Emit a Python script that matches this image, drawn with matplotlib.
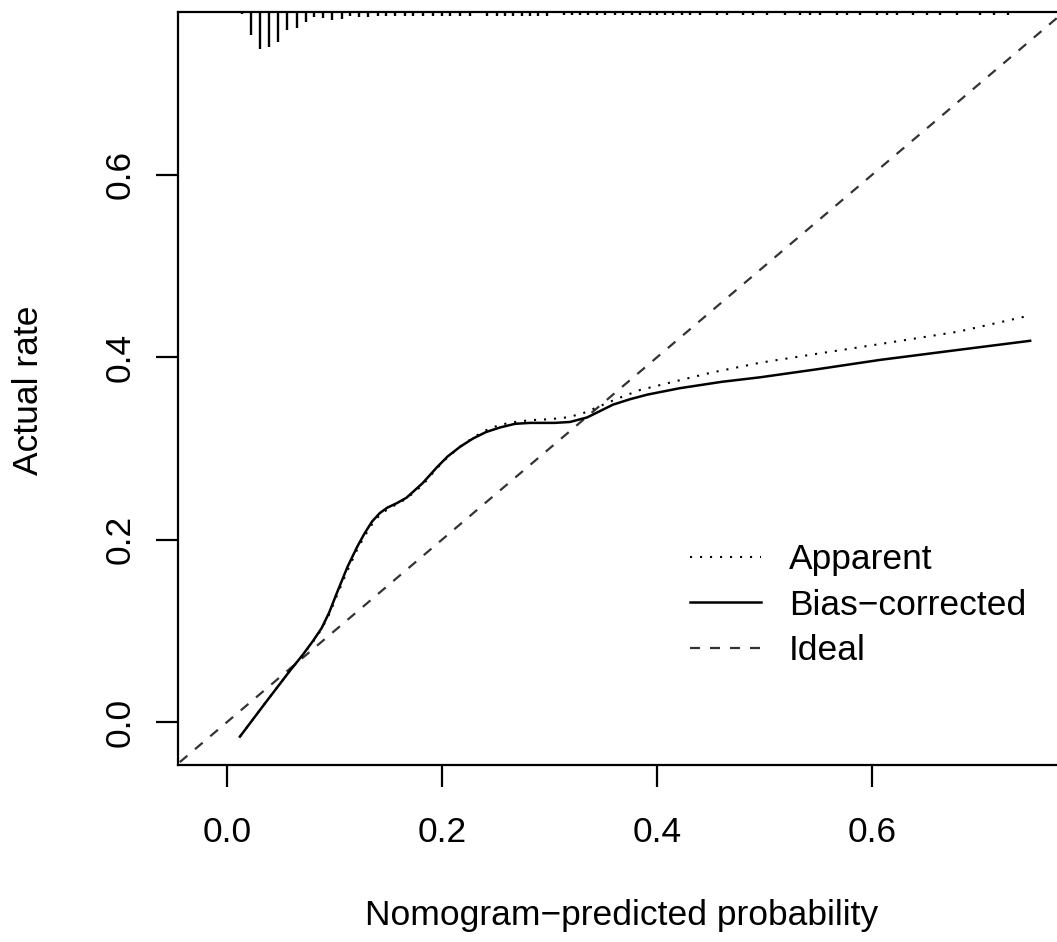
import matplotlib
matplotlib.use("Agg")
import matplotlib.pyplot as plt

plt.rcParams['font.family'] = ['Liberation Sans', 'DejaVu Sans']

# calibration curves (predicted probability, actual rate)
bias_x = [0.012, 0.035, 0.059, 0.070, 0.080, 0.088, 0.095, 0.102, 0.112, 0.121,
          0.128, 0.135, 0.142, 0.149, 0.158, 0.167, 0.182, 0.195, 0.205, 0.217,
          0.229, 0.241, 0.254, 0.268, 0.282, 0.305, 0.319, 0.335, 0.347, 0.359,
          0.375, 0.391, 0.421, 0.460, 0.496, 0.550, 0.607, 0.680, 0.747]
bias_y = [-0.016, 0.020, 0.057, 0.073, 0.089, 0.103, 0.120, 0.141, 0.170, 0.192,
          0.207, 0.220, 0.229, 0.235, 0.240, 0.246, 0.262, 0.279, 0.291, 0.302,
          0.311, 0.318, 0.323, 0.327, 0.328, 0.328, 0.329, 0.334, 0.341, 0.348,
          0.354, 0.359, 0.366, 0.373, 0.378, 0.387, 0.397, 0.408, 0.418]

app_x = [0.012, 0.035, 0.059, 0.070, 0.080, 0.088, 0.095, 0.102, 0.112, 0.121,
         0.128, 0.135, 0.142, 0.149, 0.158, 0.167, 0.182, 0.195, 0.205, 0.217,
         0.229, 0.241, 0.254, 0.268, 0.282, 0.300, 0.316, 0.330, 0.344, 0.364,
         0.384, 0.415, 0.450, 0.496, 0.550, 0.605, 0.680, 0.744]
app_y = [-0.016, 0.020, 0.057, 0.073, 0.088, 0.102, 0.118, 0.138, 0.166, 0.189,
         0.204, 0.217, 0.227, 0.233, 0.239, 0.245, 0.260, 0.278, 0.290, 0.302,
         0.312, 0.320, 0.326, 0.329, 0.331, 0.332, 0.334, 0.338, 0.345, 0.355,
         0.364, 0.373, 0.383, 0.394, 0.404, 0.414, 0.428, 0.445]

# distribution of predictions (rug at the top)
rug_x = [0.014, 0.022, 0.031, 0.039, 0.047, 0.056, 0.065, 0.073, 0.081, 0.089,
         0.098, 0.107, 0.114, 0.123, 0.131, 0.140, 0.148, 0.156, 0.166, 0.173,
         0.182, 0.192, 0.200, 0.207, 0.217, 0.226, 0.242, 0.251, 0.259, 0.266,
         0.274, 0.282, 0.289, 0.298, 0.313, 0.321, 0.328, 0.336, 0.344, 0.352,
         0.361, 0.368, 0.377, 0.384, 0.393, 0.400, 0.407, 0.415, 0.423, 0.431,
         0.440, 0.456, 0.465, 0.480, 0.489, 0.502, 0.519, 0.533, 0.542, 0.552,
         0.567, 0.577, 0.589, 0.605, 0.614, 0.623, 0.638, 0.651, 0.663, 0.679,
         0.700, 0.713, 0.726]
rug_h = [0.002, 0.025, 0.041, 0.038, 0.033, 0.020, 0.018, 0.011, 0.005, 0.007,
         0.009, 0.008, 0.004, 0.005, 0.005, 0.004, 0.004, 0.004, 0.004, 0.004,
         0.004, 0.004, 0.004, 0.004, 0.004, 0.004, 0.004, 0.004, 0.004, 0.004,
         0.004, 0.004, 0.004, 0.004, 0.003, 0.003, 0.003, 0.003, 0.003, 0.003,
         0.003, 0.003, 0.003, 0.003, 0.003, 0.003, 0.003, 0.003, 0.003, 0.003,
         0.003, 0.003, 0.003, 0.003, 0.003, 0.003, 0.003, 0.003, 0.003, 0.003,
         0.003, 0.003, 0.003, 0.003, 0.003, 0.003, 0.003, 0.003, 0.003, 0.003,
         0.003, 0.003, 0.003]

ticks = [0.0, 0.2, 0.4, 0.6]
tick_labels = ["0.0", "0.2", "0.4", "0.6"]

W, H = 1057, 942
fig = plt.figure(figsize=(W / 100, H / 100), dpi=100)
ax = fig.add_axes([178 / W, 1 - 765 / H, 879 / W, 753 / H])

xmin, xmax = -0.0456, 0.772
ymin, ymax = -0.0471, 0.7785
ax.set_xlim(xmin, xmax)
ax.set_ylim(ymin, ymax)

fs = 25.5
lw = 1.6

ax.plot([-0.2, 1.0], [-0.2, 1.0], color='#333333', lw=lw, dashes=(4.5, 4.5),
        label='Ideal', zorder=2)
ax.plot(app_x, app_y, color='black', lw=1.5, dashes=(1, 3.8), label='Apparent', zorder=3)
ax.plot(bias_x, bias_y, color='black', lw=1.8, label='Bias\u2212corrected', zorder=4,
        solid_joinstyle='round')

ax.vlines(rug_x, [ymax - h for h in rug_h], ymax, color='black', lw=1.7)

for s in ['left', 'top', 'bottom']:
    ax.spines[s].set_linewidth(lw)
ax.spines['right'].set_visible(False)

ax.set_xticks(ticks)
ax.set_xticklabels(tick_labels)
ax.set_yticks(ticks)
ax.set_yticklabels(tick_labels, rotation=90, va='center')
ax.tick_params(axis='both', length=16, width=lw, labelsize=fs, direction='out')
ax.tick_params(axis='x', pad=20.5)
ax.tick_params(axis='y', pad=14)

handles, labels = ax.get_legend_handles_labels()
order = [1, 2, 0]
ax.legend([handles[i] for i in order], [labels[i] for i in order],
          loc='upper left', bbox_to_anchor=(690 / W, 1 - 543 / H),
          bbox_transform=fig.transFigure, frameon=False, fontsize=fs,
          handlelength=2.0, handletextpad=0.8, labelspacing=0.36,
          borderpad=0, borderaxespad=0)

fig.text(622 / W, 1 - 915 / H, 'Nomogram\u2212predicted probability',
         ha='center', va='center', fontsize=fs)
fig.text(28 / W, 1 - 390 / H, 'Actual rate', rotation=90,
         ha='center', va='center', fontsize=fs)

fig.savefig('out.png', dpi=100)
